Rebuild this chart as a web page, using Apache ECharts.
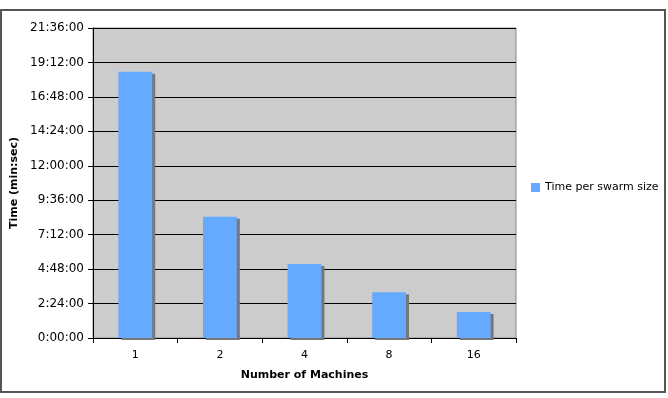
<!DOCTYPE html>
<html>
<head>
<meta charset="utf-8">
<script src="https://cdn.jsdelivr.net/npm/echarts@6/dist/echarts.min.js"></script>
<style>
  html, body { margin: 0; padding: 0; background: #fff; }
  #main { width: 668px; height: 398px; }
</style>
</head>
<body>
<div id="main"></div>
<script>
// time values stored in minutes, shown as h:mm:00 like the original sheet
var machines = ["1", "2", "4", "8", "16"];
var timePerSwarm = [1113, 507, 309, 191, 109];
var seriesName = "Time per swarm size";
var yMax = 1296;
var yStep = 144;

function fmtTime(v) {
  var h = Math.floor(v / 60);
  var m = Math.round(v % 60);
  return h + ":" + (m < 10 ? "0" + m : m) + ":00";
}

var chart = echarts.init(document.getElementById("main"));
var font = "DejaVu Sans, Verdana, sans-serif";

var option = {
  animation: false,
  graphic: [{
    type: "rect",
    shape: { x: 1, y: 10, width: 664, height: 382 },
    style: { fill: "none", stroke: "#555", lineWidth: 2 },
    z: -1
  }],
  legend: {
    data: [seriesName],
    left: 526,
    top: 177,
    itemWidth: 9,
    itemHeight: 9,
    itemGap: 4,
    textStyle: { fontFamily: font, fontSize: 11, color: "#000" },
    icon: "rect"
  },
  grid: {
    left: 93, top: 28, width: 423, height: 310,
    show: true,
    backgroundColor: "#cccccc",
    borderColor: "#888",
    borderWidth: 1
  },
  xAxis: {
    type: "category",
    data: machines,
    name: "Number of Machines",
    nameLocation: "middle",
    nameGap: 32,
    nameTextStyle: { fontFamily: font, fontSize: 11, fontWeight: "bold", color: "#000" },
    axisLine: { lineStyle: { color: "#000", width: 1 } },
    axisTick: { show: true, alignWithLabel: false, length: 5, lineStyle: { color: "#000" } },
    axisLabel: { fontFamily: font, fontSize: 11, color: "#000", margin: 12 }
  },
  yAxis: {
    type: "value",
    min: 0,
    max: yMax,
    interval: yStep,
    name: "Time (min:sec)",
    nameLocation: "middle",
    nameGap: 70,
    nameTextStyle: { fontFamily: font, fontSize: 11, fontWeight: "bold", color: "#000" },
    axisLine: { show: true, lineStyle: { color: "#000", width: 1 } },
    axisTick: { show: true, length: 5, lineStyle: { color: "#000" } },
    axisLabel: { fontFamily: font, fontSize: 12, color: "#000", margin: 9, formatter: fmtTime },
    splitLine: { show: true, lineStyle: { color: "#000", width: 1 } }
  },
  series: [{
    name: seriesName,
    type: "bar",
    data: timePerSwarm,
    barWidth: "40%",
    itemStyle: {
      color: "#66aaff",
      shadowColor: "#777",
      shadowBlur: 0,
      shadowOffsetX: 3,
      shadowOffsetY: 2
    }
  }]
};
chart.setOption(option);
</script>
</body>
</html>
